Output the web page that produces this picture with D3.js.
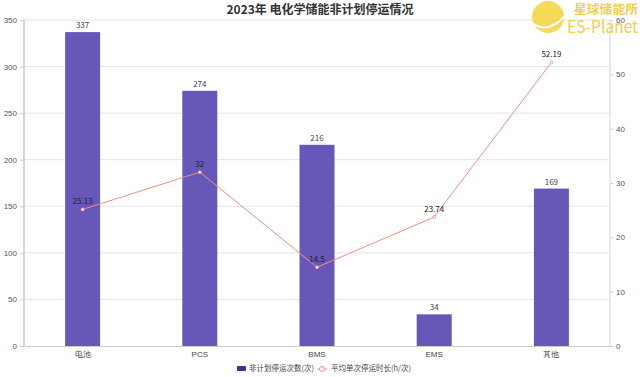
<!DOCTYPE html>
<html>
<head>
<meta charset="utf-8">
<script src="https://cdn.jsdelivr.net/npm/d3@7"></script>
<style>
  body { margin: 0; background: #fff; }
  svg { font-family: "Noto Sans CJK SC", "Open Sans", sans-serif; }
</style>
</head>
<body>
<svg class="chart_svg" width="640" height="377"></svg>
<script>
const categories = ["电池", "PCS", "BMS", "EMS", "其他"]
const stopCounts = [337, 274, 216, 34, 169]
const avgHours = [25.13, 32, 14.5, 23.74, 52.19]
const leftTicks = [0, 50, 100, 150, 200, 250, 300, 350]
const rightTicks = [0, 10, 20, 30, 40, 50, 60]
const seriesNames = ["非计划停运次数(次)", "平均单次停运时长(h/次)"]
const title = "2023年 电化学储能非计划停运情况"

const svg = d3.select("svg.chart_svg")
const margin = { top: 20, right: 30, bottom: 31, left: 24 }
const width = 640 - margin.left - margin.right
const height = 377 - margin.top - margin.bottom

const x = d3.scaleBand().domain(categories).range([0, width])
const y = d3.scaleLinear().domain([0, 350]).range([height, 0])
const y2 = d3.scaleLinear().domain([0, 60]).range([height, 0])

const g = svg.append("g").attr("transform", `translate(${margin.left},${margin.top})`)

// grid
g.append("g")
    .selectAll("line")
    .data(leftTicks.slice(1))
    .join("line")
    .attr("x1", 0).attr("x2", width)
    .attr("y1", d => y(d)).attr("y2", d => y(d))
    .attr("stroke", "#e4e4e4")

// left axis
const la = g.append("g").call(d3.axisLeft(y).tickValues(leftTicks).tickSize(4).tickPadding(3))
la.select(".domain").attr("stroke", "#d6d6d6").attr("stroke-width", 2).attr("d", `M0,0V${height}`)
la.selectAll(".tick line").attr("stroke", "#ccc")
la.selectAll("text").attr("fill", "#555").style("font-size", "8px")

// right axis
const ra = g.append("g").attr("transform", `translate(${width},0)`)
    .call(d3.axisRight(y2).tickValues(rightTicks).tickSize(3).tickPadding(3))
ra.select(".domain").attr("stroke", "#d6d6d6").attr("d", `M0,0V${height}`)
ra.selectAll(".tick line").attr("stroke", "#ccc")
ra.selectAll("text").attr("fill", "#555").style("font-size", "8px")

// x axis
const xa = g.append("g").attr("transform", `translate(0,${height})`)
    .call(d3.axisBottom(x).tickSize(0).tickPadding(5))
xa.select(".domain").attr("stroke", "#ccc")
xa.selectAll("text").attr("fill", "#444").style("font-size", "8px")

// bars
const bw = 35
g.append("g")
    .selectAll("rect")
    .data(stopCounts)
    .join("rect")
    .attr("x", (d, i) => x(categories[i]) + x.bandwidth() / 2 - bw / 2)
    .attr("y", d => y(d))
    .attr("width", bw)
    .attr("height", d => height - y(d))
    .attr("fill", "#6657b9")

g.append("g")
    .selectAll("text")
    .data(stopCounts)
    .join("text")
    .attr("x", (d, i) => x(categories[i]) + x.bandwidth() / 2)
    .attr("y", d => y(d) - 4)
    .attr("text-anchor", "middle")
    .attr("fill", "#444")
    .style("font-size", "8px")
    .text(d => d)

// line
const line = d3.line()
    .x((d, i) => x(categories[i]) + x.bandwidth() / 2)
    .y(d => y2(d))
g.append("path")
    .datum(avgHours)
    .attr("d", line)
    .attr("fill", "none")
    .attr("stroke", "#f0907e")
    .attr("stroke-width", 1)

g.append("g")
    .selectAll("circle")
    .data(avgHours)
    .join("circle")
    .attr("cx", (d, i) => x(categories[i]) + x.bandwidth() / 2)
    .attr("cy", d => y2(d))
    .attr("r", 1.5)
    .attr("fill", "#fff")
    .attr("stroke", "#f0907e")
    .attr("stroke-width", 0.8)

g.append("g")
    .selectAll("text")
    .data(avgHours)
    .join("text")
    .attr("x", (d, i) => x(categories[i]) + x.bandwidth() / 2)
    .attr("y", d => y2(d) - 5)
    .attr("text-anchor", "middle")
    .attr("fill", "#222")
    .style("font-size", "8px")
    .text(d => d)

// title
svg.append("text")
    .attr("x", 320).attr("y", 14)
    .attr("text-anchor", "middle")
    .attr("fill", "#333")
    .style("font-size", "12px")
    .style("font-weight", "bold")
    .text(title)

// legend
const lg = svg.append("g").attr("transform", "translate(237,369)")
lg.append("rect").attr("x", 0).attr("y", -3).attr("width", 9).attr("height", 5).attr("rx", 1).attr("fill", "#3a2f9f")
lg.append("text").attr("x", 12).attr("y", 2).attr("fill", "#444").style("font-size", "7.5px").text(seriesNames[0])
lg.append("line").attr("x1", 80).attr("x2", 90).attr("y1", 0).attr("y2", 0).attr("stroke", "#f0907e")
lg.append("circle").attr("cx", 85).attr("cy", 0).attr("r", 2.5).attr("fill", "#fff").attr("stroke", "#f0907e")
lg.append("text").attr("x", 94).attr("y", 2).attr("fill", "#444").style("font-size", "7.5px").text(seriesNames[1])

// logo
const logo = svg.append("g").attr("opacity", 0.85)
logo.append("circle").attr("cx", 548).attr("cy", 17).attr("r", 16).attr("fill", "#f4d43a")
logo.append("path").attr("d", "M532,23 Q548,35 566,15").attr("fill", "none").attr("stroke", "#fff").attr("stroke-width", 2)
logo.append("text").attr("x", 574).attr("y", 14).attr("fill", "#f0c62e")
    .attr("textLength", 64).attr("lengthAdjust", "spacingAndGlyphs")
    .style("font-size", "12px").style("font-weight", "bold").text("星球储能所")
logo.append("text").attr("x", 567).attr("y", 33).attr("fill", "#f0c62e")
    .attr("textLength", 71).attr("lengthAdjust", "spacingAndGlyphs")
    .style("font-size", "17px").text("ES-Planet")
</script>
</body>
</html>
